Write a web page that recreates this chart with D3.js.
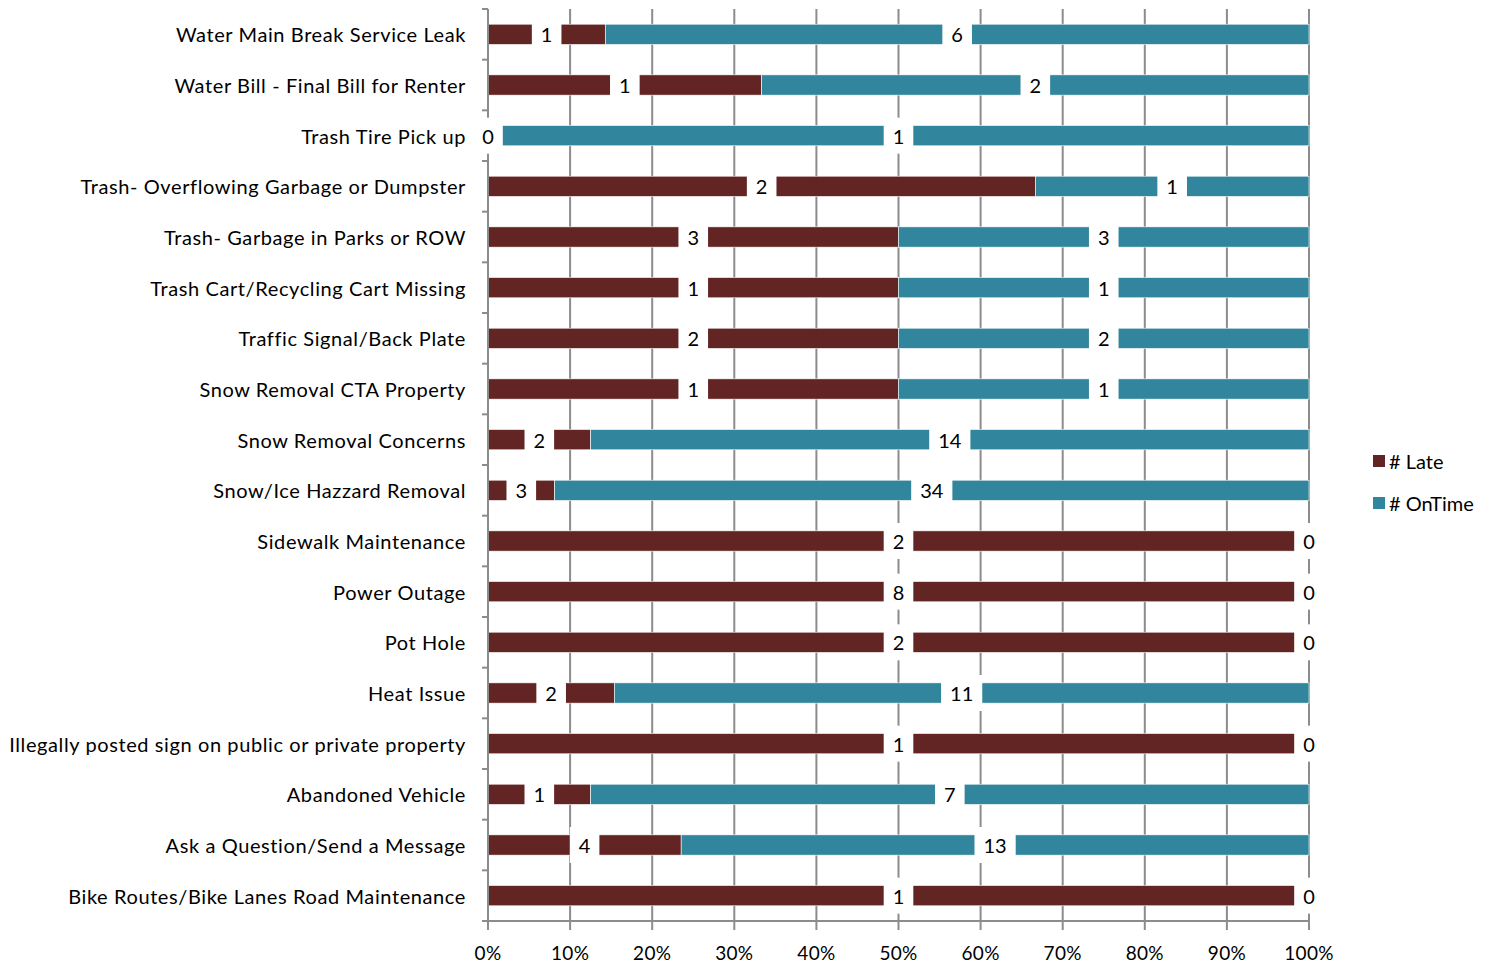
<!DOCTYPE html>
<html><head><meta charset="utf-8">
<script src="https://cdn.jsdelivr.net/npm/d3@7/dist/d3.min.js"></script>
<style>body{margin:0;background:#fff;}svg{display:block;}</style>
</head><body>
<script>
const categories = [
  "Water Main Break Service Leak",
  "Water Bill - Final Bill for Renter",
  "Trash Tire Pick up",
  "Trash- Overflowing Garbage or Dumpster",
  "Trash- Garbage in Parks or ROW",
  "Trash Cart/Recycling Cart Missing",
  "Traffic Signal/Back Plate",
  "Snow Removal CTA Property",
  "Snow Removal Concerns",
  "Snow/Ice Hazzard Removal",
  "Sidewalk Maintenance",
  "Power Outage",
  "Pot Hole",
  "Heat Issue",
  "Illegally posted sign on public or private property",
  "Abandoned Vehicle",
  "Ask a Question/Send a Message",
  "Bike Routes/Bike Lanes Road Maintenance"
];
const late   = [1,1,0,2,3,1,2,1,2,3,2,8,2,2,1,1,4,1];
const onTime = [6,2,1,1,3,1,2,1,14,34,0,0,0,11,0,7,13,0];
const seriesNames = ["# Late", "# OnTime"];
const seriesColors = ["#632523", "#31859C"];
const xTicks = [0,0.1,0.2,0.3,0.4,0.5,0.6,0.7,0.8,0.9,1];

const W = 1496, H = 965;
const m = {left: 488, right: 1309, top: 9, bottom: 921};
const font = "Lato, 'Open Sans', sans-serif";

const svg = d3.select("body").append("svg").attr("width", W).attr("height", H);

const x = d3.scaleLinear().domain([0,1]).range([m.left, m.right]);
const rows = d3.scaleBand().domain(categories).range([m.top, m.bottom]).padding(0);
const y = d3.scaleBand().domain(categories).range([m.top, m.bottom]).paddingInner(0.6).paddingOuter(0.3);

// data table
const table = categories.map((c,i) => ({cat: c, "# Late": late[i], "# OnTime": onTime[i]}));
const stack = d3.stack().keys(seriesNames).offset(d3.stackOffsetExpand);
const series = stack(table);

// gridlines
svg.append("g").selectAll("line").data(xTicks.slice(1)).join("line")
  .attr("x1", d => x(d)).attr("x2", d => x(d))
  .attr("y1", m.top).attr("y2", m.bottom)
  .attr("stroke", "#8c8c8c").attr("stroke-width", 2);

// bars
svg.append("g").selectAll("g").data(series).join("g")
  .attr("fill", (d,i) => seriesColors[i])
  .selectAll("rect").data(d => d).join("rect")
  .attr("x", d => x(d[0])).attr("width", d => Math.max(0, x(d[1]) - x(d[0])))
  .attr("y", d => y(d.data.cat)).attr("height", y.bandwidth())
  .attr("stroke", "#ffffff").attr("stroke-width", 0.6);

// left axis
const gy = svg.append("g");
gy.append("line").attr("x1", m.left).attr("x2", m.left).attr("y1", m.top).attr("y2", m.bottom)
  .attr("stroke", "#8c8c8c").attr("stroke-width", 2);
gy.selectAll("line.t").data(d3.range(categories.length + 1)).join("line").attr("class","t")
  .attr("x1", m.left - 6).attr("x2", m.left)
  .attr("y1", i => m.top + i * rows.step()).attr("y2", i => m.top + i * rows.step())
  .attr("stroke", "#8c8c8c").attr("stroke-width", 2);
gy.selectAll("text").data(categories).join("text")
  .attr("x", 466).attr("y", d => rows(d) + rows.bandwidth()/2)
  .attr("text-anchor", "end").attr("dominant-baseline", "central")
  .attr("font-family", font).attr("font-size", 20).attr("letter-spacing", 0.6).attr("fill", "#000")
  .text(d => d);

// bottom axis
const gx = svg.append("g");
gx.append("line").attr("x1", m.left).attr("x2", m.right).attr("y1", m.bottom).attr("y2", m.bottom)
  .attr("stroke", "#8c8c8c").attr("stroke-width", 2);
gx.selectAll("line.t").data(xTicks).join("line").attr("class","t")
  .attr("x1", d => x(d)).attr("x2", d => x(d)).attr("y1", m.bottom).attr("y2", m.bottom + 9)
  .attr("stroke", "#8c8c8c").attr("stroke-width", 2);
gx.selectAll("text").data(xTicks).join("text")
  .attr("x", d => x(d)).attr("y", 952)
  .attr("text-anchor", "middle").attr("dominant-baseline", "central")
  .attr("font-family", font).attr("font-size", 19).attr("letter-spacing", 0.3).attr("fill", "#000")
  .text(d => d3.format(".0%")(d));

// data labels with white boxes
const labels = [];
series.forEach((s, si) => s.forEach((d, i) => {
  labels.push({cx: x((d[0] + d[1]) / 2), cy: y(d.data.cat) + y.bandwidth()/2, v: d.data[s.key]});
}));
const lg = svg.append("g").selectAll("g").data(labels).join("g");
lg.append("rect").attr("fill", "#fff");
lg.append("text")
  .attr("x", d => d.cx).attr("y", d => d.cy)
  .attr("text-anchor", "middle").attr("dominant-baseline", "central")
  .attr("font-family", font).attr("font-size", 20).attr("fill", "#000")
  .text(d => d.v);
lg.each(function(d) {
  const g = d3.select(this);
  const w = g.select("text").node().getComputedTextLength();
  g.select("rect").attr("x", d.cx - w/2 - 9).attr("width", w + 18)
    .attr("y", d.cy - 18).attr("height", 36);
});

// legend
const leg = svg.append("g").selectAll("g").data(seriesNames).join("g")
  .attr("transform", (d,i) => `translate(1373, ${455 + i*42})`);
leg.append("rect").attr("width", 12).attr("height", 12).attr("fill", (d,i) => seriesColors[i]);
leg.append("text").attr("x", 16).attr("y", 6).attr("dominant-baseline", "central")
  .attr("font-family", font).attr("font-size", 20).attr("fill", "#000").text(d => d);
</script>
</body></html>
